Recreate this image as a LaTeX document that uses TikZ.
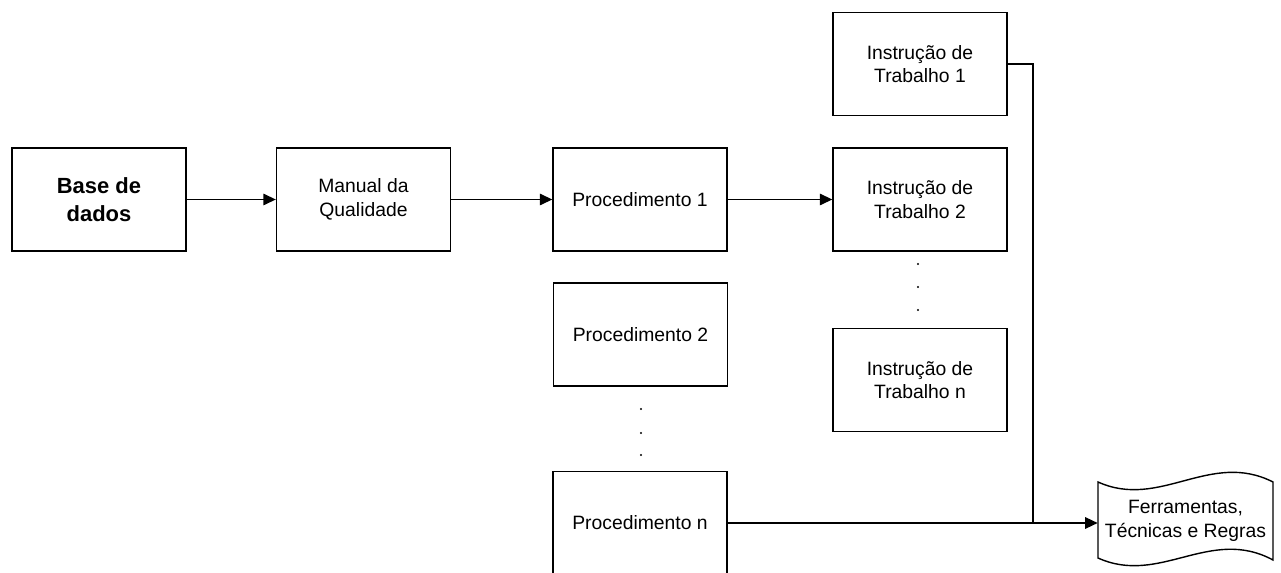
\documentclass[tikz,border=0pt]{standalone}
\usepackage{fontspec}
\setmainfont{Liberation Sans}
\usepackage{tikz}
\usetikzlibrary{
  arrows.meta,
  calc,
}

\begin{document}
\begin{tikzpicture}[x=0.02cm, y=-0.02cm]
	\tikzstyle{every node}=[font=\fontsize{11}{13.5}\selectfont]
	\tikzstyle{docbox}=[draw, line width=0.8pt, minimum width=3.48cm, minimum height=2.06cm, align=center, inner sep=0pt]
	\tikzstyle{link}=[line width=0.8pt]
	\tikzstyle{flow}=[link, -{Triangle[length=2.5mm, width=2.3mm]}]
	\useasboundingbox (0,0) rectangle (1281,573);
	% main chain
	\node (base) [docbox, font=\bfseries\fontsize{12.5}{16}\selectfont] at (99,199.5) {Base de\\dados};
	\node (manual) [docbox] at (363.5,199.5) {Manual da\\Qualidade};
	\node (proc1) [docbox] at (640,199.5) {Procedimento 1};
	\node (it2) [docbox] at (920,199.5) {Instrução de\\Trabalho 2};
	% other procedures
	\node (proc2) [docbox] at (640.5,334.5) {Procedimento 2};
	\node (procn) [docbox] at (640,523) {Procedimento n};
	% other instructions
	\node (it1) [docbox] at (920,64) {Instrução de\\Trabalho 1};
	\node (itn) [docbox] at (920,380) {Instrução de\\Trabalho n};
	% dots
	\foreach \y in {264,287,310} \fill (918,\y) circle [radius=1.1];
	\foreach \y in {409,433,455} \fill (641,\y) circle [radius=1.1];
	% tools document
	\node (tools) [minimum width=3.5cm, align=center, inner sep=0pt] at (1185.5,521) {Ferramentas,\\Técnicas e Regras};
	\draw [link] (1098,482) .. controls (1160,510) and (1210,450) .. (1273,482)
		-- (1273,560) .. controls (1210,526) and (1160,586) .. (1098,558) -- cycle;
	% arrows
	\draw [flow] (base) -- (manual);
	\draw [flow] (manual) -- (proc1);
	\draw [flow] (proc1) -- (it2);
	\draw [flow] (procn.east) -- (procn.east -| tools.west);
	\coordinate (bus) at (1033,523);
	\draw [link] (it1.east) -| (bus);
\end{tikzpicture}
\end{document}
